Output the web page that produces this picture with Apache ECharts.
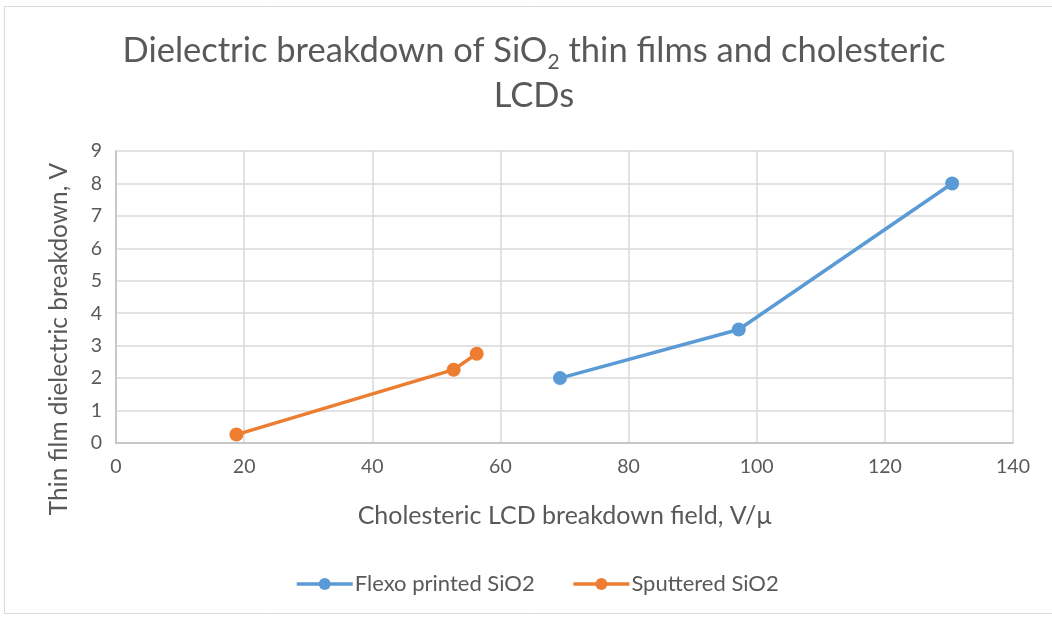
<!DOCTYPE html>
<html><head><meta charset="utf-8">
<script src="https://cdn.jsdelivr.net/npm/echarts@6/dist/echarts.min.js"></script>
<style>html,body{margin:0;padding:0;background:#fff}#c{width:1052px;height:619px}</style>
</head><body><div id="c"></div>
<script>
const flexoX = [69.3, 97.2, 130.5];
const flexoY = [2, 3.5, 8];
const sputX = [18.8, 52.7, 56.3];
const sputY = [0.26, 2.26, 2.75];
const seriesNames = ['Flexo printed SiO2', 'Sputtered SiO2'];
const xTicks = {min: 0, max: 140, interval: 20};
const yTicks = {min: 0, max: 9, interval: 1};

const font = 'Lato, Open Sans, sans-serif';
const chart = echarts.init(document.getElementById('c'));
chart.setOption({
  backgroundColor: '#fff',
  animation: false,
  graphic: [{type: 'rect', shape: {x: 4.5, y: 6.5, width: 1060, height: 607}, style: {fill: 'none', stroke: '#d9d9d9', lineWidth: 1}, silent: true}],
  title: {
    text: 'Dielectric breakdown of SiO{s|2} thin films and cholesteric\nLCDs',
    left: 529, top: 23,
    textAlign: 'center',
    textStyle: {fontFamily: font, fontSize: 34.5, fontWeight: 'normal', color: '#595959', lineHeight: 45,
      rich: {s: {fontFamily: font, fontSize: 21, color: '#595959', verticalAlign: 'bottom', padding: [17, 0, 0, 0], lineHeight: 45}}}
  },
  legend: {
    bottom: 19, left: 290, itemWidth: 56, itemHeight: 15, itemGap: 37,
    textStyle: {fontFamily: font, fontSize: 22, color: '#595959', padding: [0, 0, 0, -3]},
    lineStyle: {width: 3.5},
    data: seriesNames
  },
  grid: {left: 116, right: 39, top: 151, bottom: 176},
  xAxis: {
    type: 'value', min: xTicks.min, max: xTicks.max, interval: xTicks.interval,
    name: 'Cholesteric LCD breakdown field, V/\u03bc', nameLocation: 'middle', nameGap: 60,
    nameTextStyle: {fontFamily: font, fontSize: 25, color: '#595959'},
    axisLine: {lineStyle: {color: '#bfbfbf', width: 1.5}}, axisTick: {show: false},
    axisLabel: {fontFamily: font, fontSize: 19.5, color: '#595959', margin: 14},
    splitLine: {lineStyle: {color: '#d9d9d9', width: 1.5}}
  },
  yAxis: {
    type: 'value', min: yTicks.min, max: yTicks.max, interval: yTicks.interval,
    name: 'Thin film dielectric breakdown, V', nameLocation: 'middle', nameGap: 44,
    nameTextStyle: {fontFamily: font, fontSize: 24.5, color: '#595959', padding: [0, 84, 0, 0]},
    axisLine: {show: true, lineStyle: {color: '#bfbfbf', width: 1.5}}, axisTick: {show: false},
    axisLabel: {fontFamily: font, fontSize: 19.5, color: '#595959', margin: 14},
    splitLine: {lineStyle: {color: '#d9d9d9', width: 1.5}}
  },
  series: [
    {name: seriesNames[0], type: 'line', data: flexoX.map((x, i) => [x, flexoY[i]]),
     color: '#5B9BD5', lineStyle: {width: 3.5}, symbol: 'circle', symbolSize: 14, itemStyle: {color: '#5B9BD5'}},
    {name: seriesNames[1], type: 'line', data: sputX.map((x, i) => [x, sputY[i]]),
     color: '#ED7D31', lineStyle: {width: 3.5}, symbol: 'circle', symbolSize: 14, itemStyle: {color: '#ED7D31'}}
  ]
});
</script></body></html>
